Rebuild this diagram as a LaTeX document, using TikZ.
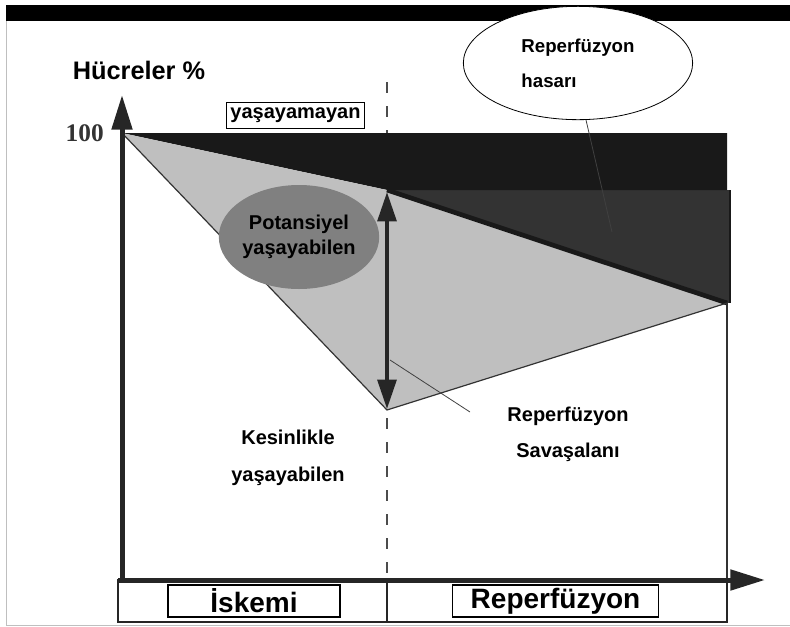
\documentclass[tikz,border=0pt]{standalone}
\usepackage{fontspec}
\setmainfont{Liberation Sans}
\newfontfamily\numfont{Liberation Serif}
\usetikzlibrary{positioning,arrows.meta,shapes.geometric}

\begin{document}
\begin{tikzpicture}[
  x=0.75pt, y=-0.75pt,
  lbl/.style={font=\bfseries\fontsize{15}{27}\selectfont,align=center,inner sep=1pt},
  tag/.style={draw,line width=0.8pt,fill=white,inner sep=1pt,minimum height=24pt,font=\bfseries\fontsize{21}{24}\selectfont},
  axis/.style={line width=3.75pt,draw=black!85,-{Triangle[length=26pt,width=15pt]}},
  rim/.style={draw=black!80,line width=0.9pt},
  pointer/.style={draw=black!75,line width=0.6pt}
]
\useasboundingbox (0,0) rectangle (790,626);

% frame of the slide
\fill[black] (6,5) rectangle (790,21);
\draw[black!25,line width=0.5pt] (6,21) -- (6,625) -- (790,625);

% key points of the curves
\coordinate (top) at (122,133);
\coordinate (tr) at (727,133);
\coordinate (mid) at (387,190);
\coordinate (midr) at (727,190);
\coordinate (low) at (387,410);
\coordinate (rgt) at (727,303);

% border between ischemia and reperfusion
\draw[black!70,line width=1pt,dash pattern=on 8pt off 10pt] (387,82) -- (387,578);

% areas
\fill[black!80] (mid) rectangle (730,303);
\draw[black!90,line width=1.5pt] (730,190) -- (730,303);
\fill[black!90] (top) -- (tr) -- (midr) -- (mid) -- cycle;
\fill[black!25] (top) -- (mid) -- (rgt) -- (low) -- cycle;
\draw[black!90,line width=3.5pt] (mid) -- (rgt);
\draw[rim] (top) -- (low) -- (rgt);
\draw[black!80,line width=0.8pt] (rgt) -- (727,622);

% axes
\draw[axis] (122,582) -- (122,95);
\draw[axis] (118,580) -- (765,580);
\node[anchor=east,inner sep=0pt,text=black!80,font=\numfont\bfseries\fontsize{19}{20}\selectfont] (hundred) at (104,133) {100};
\node[font=\bfseries\fontsize{19}{22}\selectfont] (cells) at (139,70) {Hücreler \%};

% range arrow
\draw[black!85,line width=3pt,{Triangle[length=22pt,width=14pt]}-{Triangle[length=22pt,width=14pt]}] (387,192) -- (387,409);

% labels
\node[draw,line width=0.8pt,inner sep=1pt,minimum width=104pt,minimum height=19pt,font=\bfseries\fontsize{15}{18}\selectfont] (dead) at (295.5,115.5) {yaşayamayan};
\node[ellipse,fill=black!50,minimum width=99pt,minimum height=78pt,inner sep=0pt,font=\bfseries\fontsize{15}{19}\selectfont,align=center] (potential) at (299,237) {Potansiyel\\yaşayabilen};
\node[ellipse,draw,line width=0.6pt,fill=white,minimum width=172pt,minimum height=85pt,inner sep=0pt,font=\bfseries\fontsize{14}{26}\selectfont,align=left] (injury) at (578,63) {Reperfüzyon\\hasarı};
\coordinate (injuryTip) at (612,232);
\draw[pointer] (injury.-82) -- (injuryTip);
\coordinate (fieldA) at (390,360);
\coordinate (fieldB) at (470,412);
\draw[pointer] (fieldA) -- (fieldB);
\node[lbl] (field) at (568,434) {Reperfüzyon\\Savaşalanı};
\node[lbl,font=\bfseries\fontsize{15}{28}\selectfont] (alive) at (288,458) {Kesinlikle\\yaşayabilen};

% phase band
\draw[black!85,line width=1.2pt] (118,580) rectangle (727,622);
\draw[black!85,line width=1.2pt] (387,580) -- (387,622);
\node[tag,minimum width=129pt] (ischemia) at (254,601) {İskemi};
\node[tag,minimum width=154pt] (reperfusion) at (555.5,601) {Reperfüzyon};
\end{tikzpicture}
\end{document}
